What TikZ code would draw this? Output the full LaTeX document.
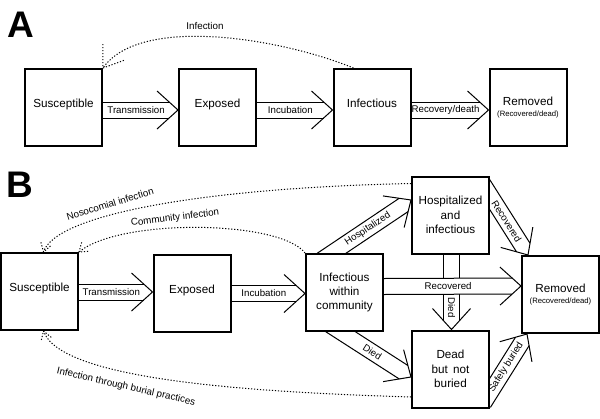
\documentclass[tikz,border=0pt]{standalone}
\usepackage{fontspec}
\setmainfont{Liberation Sans}
\usetikzlibrary{calc,backgrounds}
% block arrow: [label options]{extension into box}{start on box edge}{tip}{label}
\newcommand{\blockarr}[5][sloped]{%
  \coordinate (ba0) at #3;
  \coordinate (ba1) at #4;
  \coordinate (bas) at ($(ba0)!-#2!(ba1)$);
  \coordinate (bah) at ($(ba1)!8.8pt!(ba0)$);
  \coordinate (bab) at ($(ba1)!21pt!(ba0)$);
  \fill[white] ($(bas)!8pt!90:(ba1)$) -- ($(bah)!8pt!-90:(ba0)$) -- ($(bah)!8pt!90:(ba0)$) -- ($(bas)!8pt!-90:(ba1)$) -- cycle;
  \draw[arrline] ($(bas)!8pt!90:(ba1)$) -- ($(bah)!8pt!-90:(ba0)$);
  \draw[arrline] ($(bas)!8pt!-90:(ba1)$) -- ($(bah)!8pt!90:(ba0)$);
  \draw[arrline] ($(bab)!19pt!90:(ba1)$) -- (ba1) -- ($(bab)!19pt!-90:(ba1)$);
  \path (ba0) -- (bah) node[arrlabel, midway, #1] {#5};
}
\newcommand{\dotarms}[4]{%
  \draw[dotline] ($#1!#3!#4:#2$) -- #1 -- ($#1!#3!-#4:#2$);
}
\begin{document}
\begin{tikzpicture}[x=1pt,y=-1pt,
  box/.style={draw, line width=2pt, fill=white, minimum width=77pt, minimum height=77pt, inner sep=0pt, align=center, font=\fontsize{11.7}{14.3}\selectfont},
  arrline/.style={line width=1pt, line join=miter},
  arrlabel/.style={font=\fontsize{9.7}{11}\selectfont, inner sep=1pt},
  dotline/.style={line width=1pt, dash pattern=on 1.2pt off 1.8pt},
  dotlabel/.style={font=\fontsize{9.8}{11}\selectfont, inner sep=1pt},
  panel/.style={font=\fontsize{37}{37}\selectfont\bfseries, inner sep=0pt}]
\useasboundingbox (0,0) rectangle (600,418);

% ---------- Panel A ----------
\node[panel] (labA) at (21,25) {A};
\node[box] (susA) at (63.5,107.5) {\smash{Susceptible}};
\node[box] (expA) at (217.5,107.5) {\smash{Exposed}};
\node[box] (infA) at (372,107.5) {\smash{Infectious}};
\node[box] (remA) at (528,107.5) {Removed\\[-3.5pt]{\fontsize{7.7}{9}\selectfont(Recovered/dead)}};

% ---------- Panel B ----------
\node[panel] (labB) at (20,185) {B};
\node[box] (susB) at (39.5,291.5) {\smash{Susceptible}};
\node[box] (expB) at (192,293) {\smash{Exposed}};
\node[box] (infB) at (344.5,292.5) {Infectious\\within\\community};
\node[box] (hosp) at (450.5,215) {Hospitalized\\and\\infectious};
\node[box] (dead) at (450.5,369) {Dead\\but\ \,not\\buried};
\node[box] (remB) at (560.5,294.5) {Removed\\[-3.5pt]{\fontsize{7.7}{9}\selectfont(Recovered/dead)}};

\begin{pgfonlayer}{background}
  % A arrows
  \blockarr{14pt}{($(susA.east)+(0,2.5)$)}{($(expA.west)+(0,2.5)$)}{Transmission}
  \blockarr{14pt}{($(expA.east)+(0,2.5)$)}{($(infA.west)+(0,2.5)$)}{Incubation}
  \blockarr{14pt}{($(infA.east)+(0,2.5)$)}{($(remA.west)+(0,2.5)$)}{Recovery/death}
  % B arrows
  \blockarr{14pt}{($(susB.east)+(0,0.5)$)}{($(expB.west)+(0,-1)$)}{Transmission}
  \blockarr{14pt}{($(expB.east)+(0,0.5)$)}{($(infB.west)+(0,1)$)}{Incubation}
  \blockarr[pos=0.8,rotate=-90]{14pt}{($(hosp.south)+(1,0)$)}{($(dead.north)+(1,0)$)}{Died}
  \blockarr{14pt}{($(infB.east)+(0,-6)$)}{($(remB.west)+(0,-8.5)$)}{Recovered}
  \blockarr{14pt}{($(infB.north west)+(27,0)$)}{($(hosp.west)+(0,-15)$)}{Hospitalized}
  \blockarr{16pt}{($(infB.south west)+(36,0)$)}{($(dead.west)+(0,8)$)}{Died}
  \blockarr{16pt}{($(hosp.east)+(0,-20)$)}{($(remB.north west)+(7,0)$)}{Recovered}
  \blockarr{12pt}{($(dead.east)+(0,24)$)}{($(remB.south west)+(6,0)$)}{Safely buried}
\end{pgfonlayer}

% dotted infection routes
\draw[dotline] ($(infA.north west)+(21,0)$) .. controls (280,38) and (140,15) .. (susA.north east);
\dotarms{(susA.north east)}{(140,15)}{24pt}{35}
\node[dotlabel] (lInf) at (205,26) {Infection};

\draw[dotline] ($(hosp.north west)+(0,8)$) .. controls (200,188) and (55,215) .. ($(susB.north)+(4,0)$);
\dotarms{($(susB.north)+(4,0)$)}{(55,215)}{10pt}{32}
\node[dotlabel, rotate=17] (lNos) at (110,204) {Nosocomial infection};

\draw[dotline] (infB.north west) .. controls (280,220) and (120,218) .. (susB.north east);
\dotarms{(susB.north east)}{(120,218)}{10pt}{35}
\node[dotlabel, rotate=7] (lCom) at (175,218) {Community infection};

\draw[dotline] ($(dead.west)+(0,28)$) .. controls (250,392) and (60,380) .. ($(susB.south)+(4,0)$);
\dotarms{($(susB.south)+(4,0)$)}{(60,380)}{10pt}{32}
\node[dotlabel, rotate=-13] (lBur) at (126,387) {Infection through burial practices};
\end{tikzpicture}
\end{document}
